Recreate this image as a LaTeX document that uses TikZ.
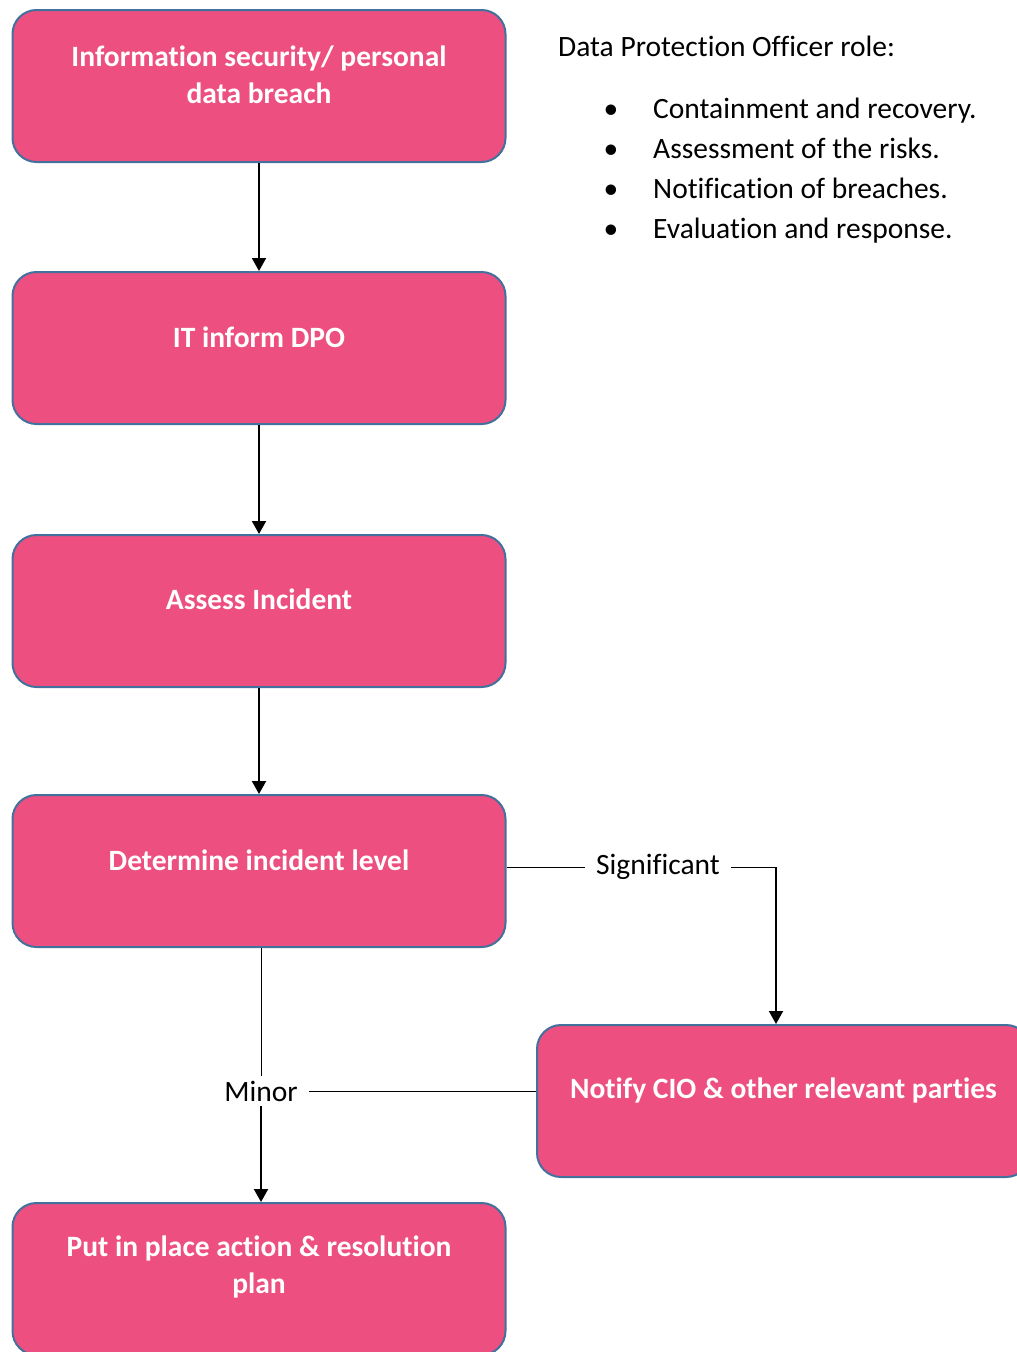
\documentclass[tikz,border=0pt]{standalone}
\usepackage{fontspec}
\setmainfont{Carlito}[Ligatures=NoCommon]
\usetikzlibrary{arrows.meta}
\definecolor{boxfill}{HTML}{EC4F80}
\definecolor{boxline}{HTML}{41719C}
\begin{document}
\begin{tikzpicture}[x=1pt,y=-1pt,
  box/.style={draw=boxline, line width=2pt, fill=boxfill, rounded corners=24pt,
    minimum width=493pt, minimum height=152pt, inner sep=0pt},
  boxtext/.style={text=white, font=\fontsize{29.5}{37}\selectfont\bfseries, align=center, inner sep=0pt},
  plain/.style={font=\fontsize{29.5}{34}\selectfont, inner sep=0pt},
  lbl/.style={font=\fontsize{29.5}{34}\selectfont, inner xsep=11pt, inner ysep=5pt},
  thinline/.style={line width=1pt},
  arrowline/.style={line width=2pt, -{Triangle[width=14pt,length=13pt]}}
]
\useasboundingbox (0,0) rectangle (1017,1352);

% boxes
\node[box] (b1) at (259,86) {};
\node[box] (b2) at (259,348) {};
\node[box] (b3) at (259,611) {};
\node[box] (b4) at (259,871) {};
\node[box] (b5) at (783.5,1101) {};
\node[box] (b6) at (259,1279) {};

% box texts
\node[boxtext] (t1) at (259,74.5) {Information security/ personal\\data breach};
\node[boxtext] (t2) at (259,337) {IT inform DPO};
\node[boxtext] (t3) at (259,599) {Assess Incident};
\node[boxtext] (t4) at (259,860) {Determine incident level};
\node[boxtext] (t5) at (783.5,1090) {Notify CIO \& other relevant parties};
\node[boxtext] (t6) at (259,1267) {Put in place action \& resolution\\plan};

% vertical arrows
\draw[arrowline] (b1.south) -- (b2.north);
\draw[arrowline] (b2.south) -- (b3.north);
\draw[arrowline] (b3.south) -- (b4.north);

% significant branch
\node[lbl] (sig) at (658,867) {Significant};
\coordinate (sigturn) at (776,867);
\draw[thinline] (b4.east |- sig) -- (sig.west);
\draw[thinline] (sig.east) -- (sigturn);
\draw[arrowline] (sigturn) -- (sigturn |- b5.north);

% minor branch
\node[lbl] (minor) at (261,1091) {Minor};
\draw[thinline] (b4.south -| minor) -- (minor.north);
\draw[thinline] (b5.west |- minor) -- (minor.east);
\draw[arrowline] (minor.south) -- (minor.south |- b6.north);

% DPO role text
\node[plain, anchor=base west] (dpo) at (558,56) {Data Protection Officer role:};
\node[plain, anchor=base] (k1) at (611,118) {•};
\node[plain, anchor=base west] (i1) at (653,118) {Containment and recovery.};
\node[plain, anchor=base] (k2) at (611,158) {•};
\node[plain, anchor=base west] (i2) at (653,158) {Assessment of the risks.};
\node[plain, anchor=base] (k3) at (611,198) {•};
\node[plain, anchor=base west] (i3) at (653,198) {Notification of breaches.};
\node[plain, anchor=base] (k4) at (611,238) {•};
\node[plain, anchor=base west] (i4) at (653,238) {Evaluation and response.};
\end{tikzpicture}
\end{document}
